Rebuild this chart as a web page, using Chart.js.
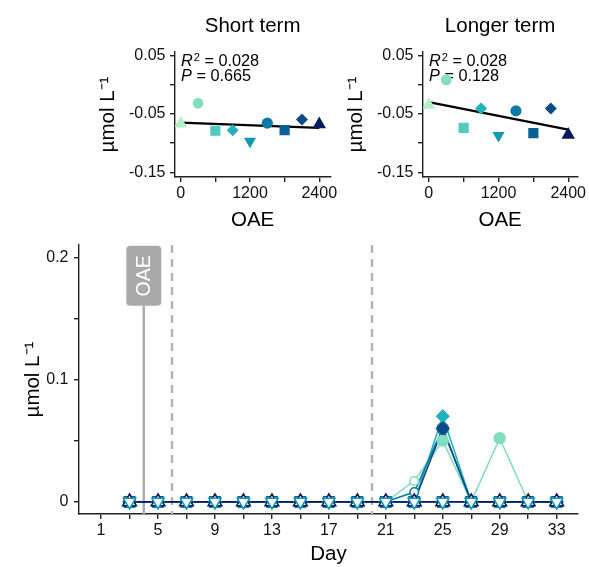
<!DOCTYPE html>
<html>
<head>
<meta charset="utf-8">
<script src="https://cdn.jsdelivr.net/npm/chart.js@4.4.1/dist/chart.umd.min.js"></script>
<style>
html,body{margin:0;padding:0;background:#fff;}
#wrap{position:relative;width:589px;height:567px;overflow:hidden;background:#fff;}
canvas{position:absolute;display:block;}
</style>
</head>
<body>
<div id="wrap">
<canvas id="pShort" width="340" height="235" style="left:0;top:0;"></canvas>
<canvas id="pLong" width="339" height="235" style="left:250px;top:0;"></canvas>
<canvas id="pTime" width="589" height="337" style="left:0;top:230px;"></canvas>
</div>
<script>
// ---------- data ----------
const oaeLevels = [0, 300, 600, 900, 1200, 1500, 1800, 2100, 2400];
const shortTerm  = [-0.067, -0.032, -0.079, -0.078, -0.097, -0.066, -0.078, -0.060, -0.068];
const longerTerm = [-0.035, 0.008, -0.074, -0.041, -0.087, -0.045, -0.083, -0.041, -0.086];
const fitX = [0, 2400];
const shortFit  = [-0.065, -0.074];
const longerFit = [-0.030, -0.077];
const panelTitles = ['Short term', 'Longer term'];
const statsR2 = ['0.028', '0.028'];
const statsP  = ['0.665', '0.128'];
const oaeTicks = [0, 600, 1200, 1800, 2400];
const oaeTickLabels = ['0', '', '1200', '', '2400'];
const panelYTicks = [-0.15, -0.1, -0.05, 0, 0.05];
const panelYTickLabels = ['-0.15', '', '-0.05', '', '0.05'];

const days = [3, 5, 7, 9, 11, 13, 15, 17, 19, 21, 23, 25, 27, 29, 31, 33];
const ts0    = [0, 0, 0, 0, 0, 0, 0, 0, 0, 0, 0,     0,    0, 0,     0, 0];
const ts300  = [0, 0, 0, 0, 0, 0, 0, 0, 0, 0, 0.017, 0.05, 0, 0.052, 0, 0];
const ts600  = [0, 0, 0, 0, 0, 0, 0, 0, 0, 0, 0,     0,    0, 0,     0, 0];
const ts900  = [0, 0, 0, 0, 0, 0, 0, 0, 0, 0, 0,     0.07, 0, 0,     0, 0];
const ts1200 = [0, 0, 0, 0, 0, 0, 0, 0, 0, 0, 0,     0,    0, 0,     0, 0];
const ts1500 = [0, 0, 0, 0, 0, 0, 0, 0, 0, 0, 0.008, 0.06, 0, 0,     0, 0];
const ts1800 = [0, 0, 0, 0, 0, 0, 0, 0, 0, 0, 0,     0,    0, 0,     0, 0];
const ts2100 = [0, 0, 0, 0, 0, 0, 0, 0, 0, 0, 0,     0.06, 0, 0,     0, 0];
const ts2400 = [0, 0, 0, 0, 0, 0, 0, 0, 0, 0, 0,     0,    0, 0,     0, 0];
const timeSeries = [ts0, ts300, ts600, ts900, ts1200, ts1500, ts1800, ts2100, ts2400];
const dayTicks = [1, 3, 5, 7, 9, 11, 13, 15, 17, 19, 21, 23, 25, 27, 29, 31, 33];
const dayLabelDays = [1, 5, 9, 13, 17, 21, 25, 29, 33];
const timeYTicks = [0, 0.05, 0.1, 0.15, 0.2];
const timeYTickLabels = ['0', '', '0.1', '', '0.2'];
const oaeDay = 4;
const phaseDays = [6, 20];
const quantLimit = 0.03;

// ---------- styles ----------
const FONT = '"Liberation Sans", Arial, sans-serif';
Chart.defaults.font.family = FONT;
const palette = ['#b3f0c8', '#82dec0', '#52c9c1', '#22b1ba', '#1597b1', '#0b7ba6', '#0a6196', '#0c4a89', '#0b1a5e'];
const shapes  = ['triangle', 'circle', 'rect', 'rectRot', 'triangle', 'circle', 'rect', 'rectRot', 'triangle'];
const rotations = [0, 0, 0, 0, 180, 0, 0, 0, 0];
const radii = [7.6, 5.4, 7.2, 6.0, 7.0, 5.6, 7.2, 6.0, 7.8];
const AX = '#222';
const yTitle = 'µmol L⁻¹';

function axisCommon() {
  return {
    grid: { drawOnChartArea: false, drawTicks: true, tickLength: 5, tickColor: AX, lineWidth: 1.4 },
    border: { display: true, color: AX, width: 1.4 }
  };
}

const panelText = {
  id: 'panelText',
  beforeDatasetsDraw(chart, args, opts) {
    const ctx = chart.ctx, a = chart.chartArea;
    ctx.save();
    ctx.fillStyle = '#000';
    ctx.textBaseline = 'alphabetic';
    ctx.textAlign = 'center';
    ctx.font = '20.5px ' + FONT;
    ctx.fillText(opts.title, (a.left + a.right) / 2, 31.7);
    ctx.textAlign = 'left';
    let x = a.left + 6;
    let y1 = a.top + 14.2, y2 = a.top + 29;
    ctx.font = 'italic 16.3px ' + FONT;
    ctx.fillText('R', x, y1);
    let w = ctx.measureText('R').width;
    ctx.font = '11px ' + FONT;
    ctx.fillText('2', x + w + 1, y1 - 5);
    let w2 = ctx.measureText('2').width;
    ctx.font = '16.3px ' + FONT;
    ctx.fillText(' = ' + opts.r2, x + w + w2 + 1, y1);
    ctx.font = 'italic 16.3px ' + FONT;
    ctx.fillText('P', x, y2);
    w = ctx.measureText('P').width;
    ctx.font = '16.3px ' + FONT;
    ctx.fillText(' = ' + opts.p, x + w, y2);
    ctx.restore();
  }
};

function makePanel(id, values, fit, k, rightPad, yTitlePad, xMax) {
  const xs = axisCommon(), ys = axisCommon();
  new Chart(document.getElementById(id), {
    type: 'scatter',
    data: {
      datasets: [
        {
          type: 'line',
          data: fitX.map((x, i) => ({ x: x, y: fit[i] })),
          borderColor: '#000', borderWidth: 2.2, pointRadius: 0, fill: false, order: 1
        },
        {
          data: oaeLevels.map((x, i) => ({ x: x, y: values[i] })),
          pointStyle: shapes, rotation: rotations, pointRadius: radii,
          backgroundColor: palette, borderColor: palette, borderWidth: 0, order: 0
        }
      ]
    },
    options: {
      responsive: false, animation: false, devicePixelRatio: 1,
      layout: { padding: { left: 0, top: 52, right: rightPad, bottom: 0 } },
      plugins: {
        legend: { display: false }, tooltip: { enabled: false },
        panelText: { title: panelTitles[k], r2: statsR2[k], p: statsP[k] }
      },
      scales: {
        x: Object.assign(xs, {
          type: 'linear', min: -100, max: xMax,
          afterFit(s) { s.height = 58; },
          afterBuildTicks(s) { s.ticks = oaeTicks.map(v => ({ value: v })); },
          ticks: {
            autoSkip: false, maxRotation: 0, padding: 2.4, color: '#111',
            font: { size: 16 },
            callback: (v) => { const i = oaeTicks.indexOf(v); return i >= 0 ? oaeTickLabels[i] : ''; }
          },
          title: { display: true, text: 'OAE', color: '#000', font: { size: 20.5 }, padding: { top: 0, bottom: 2.7 } }
        }),
        y: Object.assign(ys, {
          type: 'linear', min: -0.158, max: 0.0555,
          afterFit(s) { s.width = k === 0 ? 175 : 173; },
          afterBuildTicks(s) { s.ticks = panelYTicks.map(v => ({ value: v })); },
          ticks: {
            autoSkip: false, padding: 4.5, color: '#111', font: { size: 16 },
            callback: (v) => { const i = panelYTicks.indexOf(v); return i >= 0 ? panelYTickLabels[i] : ''; }
          },
          title: { display: true, text: yTitle, color: '#000', font: { size: 20.5 }, padding: { top: yTitlePad, bottom: 0 } }
        })
      }
    },
    plugins: [panelText]
  });
}

makePanel('pShort', shortTerm, shortFit, 0, 7, 95.7, 2590);
makePanel('pLong', longerTerm, longerFit, 1, 10, 93.7, 2555);

// ---------- time series ----------
const markers = {
  id: 'markers',
  beforeDatasetsDraw(chart) {
    const ctx = chart.ctx, a = chart.chartArea, xs = chart.scales.x;
    ctx.save();
    ctx.strokeStyle = '#b3b3b3';
    ctx.lineWidth = 2.4;
    ctx.setLineDash([8, 6]);
    phaseDays.forEach(d => {
      const px = Math.round(xs.getPixelForValue(d));
      ctx.beginPath(); ctx.moveTo(px, a.top); ctx.lineTo(px, a.bottom); ctx.stroke();
    });
    ctx.setLineDash([]);
    const cx = xs.getPixelForValue(oaeDay);
    const bw = 35, bh = 60, bt = a.top + 0.7;
    ctx.strokeStyle = '#ababab';
    ctx.lineWidth = 2.5;
    ctx.beginPath(); ctx.moveTo(cx, bt + bh); ctx.lineTo(cx, a.bottom); ctx.stroke();
    ctx.fillStyle = '#a9a9a9';
    ctx.beginPath();
    if (ctx.roundRect) ctx.roundRect(cx - bw / 2, bt, bw, bh, 4); else ctx.rect(cx - bw / 2, bt, bw, bh);
    ctx.fill();
    ctx.translate(cx + 1, bt + bh / 2);
    ctx.rotate(-Math.PI / 2);
    ctx.fillStyle = '#fff';
    ctx.font = '19.5px ' + FONT;
    ctx.textAlign = 'center';
    ctx.textBaseline = 'middle';
    ctx.fillText('OAE', 0, 0);
    ctx.restore();
  }
};

const tDatasets = [];
timeSeries.forEach((vals, i) => {
  const pts = days.map((d, k) => ({ x: d, y: vals[k] }));
  tDatasets.push({
    data: pts, borderColor: palette[i], borderWidth: 1.6, pointRadius: 0,
    fill: false, tension: 0, order: 100 + (8 - i)
  });
  tDatasets.push({
    data: pts, showLine: false, pointStyle: shapes[i], rotation: rotations[i],
    pointRadius: (c) => (shapes[i] === 'circle' && c.raw && c.raw.y < quantLimit) ? 4.3 : radii[i],
    pointBackgroundColor: (c) => (c.raw && c.raw.y < quantLimit) ? '#ffffff' : palette[i],
    pointBorderColor: palette[i], pointBorderWidth: 1.6,
    order: i === 4 ? 0 : 10 + (8 - i)
  });
});

const txs = axisCommon(), tys = axisCommon();
new Chart(document.getElementById('pTime'), {
  type: 'line',
  data: { datasets: tDatasets },
  options: {
    responsive: false, animation: false, devicePixelRatio: 1,
    layout: { padding: { left: 0, top: 10, right: 11, bottom: 0 } },
    plugins: { legend: { display: false }, tooltip: { enabled: false } },
    scales: {
      x: Object.assign(txs, {
        type: 'linear', min: -0.55, max: 34.5,
        afterFit(s) { s.height = 53; },
        afterBuildTicks(s) { s.ticks = dayTicks.map(v => ({ value: v })); },
        ticks: {
          autoSkip: false, maxRotation: 0, padding: 2, color: '#111', font: { size: 16 },
          callback: (v) => dayLabelDays.indexOf(v) >= 0 ? String(v) : ''
        },
        title: { display: true, text: 'Day', color: '#000', font: { size: 20.5 }, padding: { top: 0, bottom: 0 } }
      }),
      y: Object.assign(tys, {
        type: 'linear', min: -0.01, max: 0.21,
        afterFit(s) { s.width = 79; },
        afterBuildTicks(s) { s.ticks = timeYTicks.map(v => ({ value: v })); },
        ticks: {
          autoSkip: false, padding: 5.5, color: '#111', font: { size: 16 },
          callback: (v) => { const i = timeYTicks.indexOf(v); return i >= 0 ? timeYTickLabels[i] : ''; }
        },
        title: { display: true, text: yTitle, color: '#000', font: { size: 20.5 }, padding: { top: 20.7, bottom: 0 } }
      })
    }
  },
  plugins: [markers]
});
</script>
</body>
</html>
